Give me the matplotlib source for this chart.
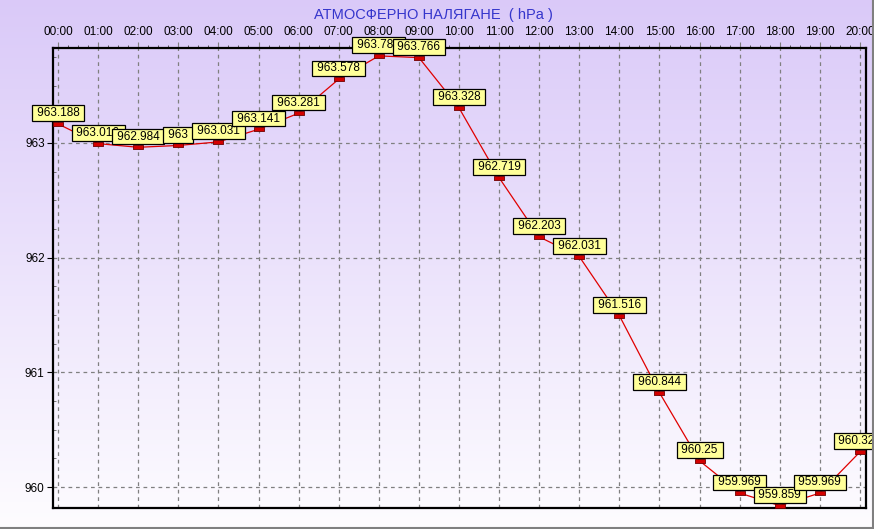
import numpy as np
import matplotlib.pyplot as plt
from matplotlib.lines import Line2D
from matplotlib.ticker import MultipleLocator
from matplotlib.transforms import offset_copy

hours = ["00:00", "01:00", "02:00", "03:00", "04:00", "05:00", "06:00", "07:00",
         "08:00", "09:00", "10:00", "11:00", "12:00", "13:00", "14:00", "15:00",
         "16:00", "17:00", "18:00", "19:00", "20:00"]
pressure = [963.188, 963.016, 962.984, 963.0, 963.031, 963.141, 963.281, 963.578,
            963.781, 963.766, 963.328, 962.719, 962.203, 962.031, 961.516, 960.844,
            960.25, 959.969, 959.859, 959.969, 960.328]
labels = ["963.188", "963.016", "962.984", "963", "963.031", "963.141", "963.281",
          "963.578", "963.781", "963.766", "963.328", "962.719", "962.203", "962.031",
          "961.516", "960.844", "960.25", "959.969", "959.859", "959.969", "960.328"]
yticks = [960, 961, 962, 963]

plt.rcParams['font.family'] = ['Liberation Sans', 'DejaVu Sans']

W, H = 874, 529
fig = plt.figure(figsize=(W / 100, H / 100), dpi=100)

# background gradient over whole figure
bg = fig.add_axes([0, 0, 1, 1], zorder=-10)
top = np.array([0.855, 0.790, 0.975])
bot = np.array([0.995, 0.990, 1.0])
t = np.linspace(0, 1, 256)[:, None]
grad = top * (1 - t) + bot * t
bg.imshow(grad[:, None, :].repeat(2, axis=1), aspect='auto', extent=[0, 1, 0, 1])
bg.set_axis_off()
fig.add_artist(Line2D([0, 1], [1.5 / H, 1.5 / H], color='#808080', lw=1.5))
fig.add_artist(Line2D([1 - 1.5 / W, 1 - 1.5 / W], [0, 1], color='#808080', lw=1.5))

ax = fig.add_axes([53 / W, 21 / H, (866 - 53) / W, (508 - 48) / H])
ax.set_facecolor('none')

# line and markers sit a few pixels below the labelled value
shifted = offset_copy(ax.transData, fig=fig, x=0, y=-2.5, units='dots')
x = np.arange(len(hours))
ax.plot(x, pressure, color='#e00000', lw=0.9, zorder=3, transform=shifted)
rect = [(-1, -0.5), (1, -0.5), (1, 0.5), (-1, 0.5), (-1, -0.5)]
ax.plot(x, pressure, ls='none', marker=rect, markersize=7,
        markerfacecolor='#d40000', markeredgecolor='#700000', markeredgewidth=0.6,
        zorder=4, transform=shifted)

for i, (xi, yi, lab) in enumerate(zip(x, pressure, labels)):
    ax.annotate(" " + lab + " ", (xi, yi), xytext=(0, 1.6), textcoords='offset points',
                ha='center', va='bottom', fontsize=8.5, color='black',
                bbox=dict(boxstyle='square,pad=0.15', fc='#ffff99', ec='black', lw=0.9),
                zorder=5 + i, annotation_clip=False, clip_on=False)

ax.set_xlim(-0.125, 20.15)
ax.set_ylim(959.817, 963.828)

ax.xaxis.tick_top()
ax.set_xticks(x)
ax.set_xticklabels(hours)
ax.xaxis.set_minor_locator(MultipleLocator(0.25))
ax.set_yticks(yticks)
ax.set_yticklabels([str(v) for v in yticks])
ax.yaxis.set_minor_locator(MultipleLocator(0.25))

ax.tick_params(axis='x', which='major', direction='out', length=4, color='#808080',
               labelsize=8.5, pad=3)
ax.tick_params(axis='x', which='minor', direction='out', length=2, color='#404040')
ax.tick_params(axis='y', which='major', direction='out', length=4, color='black',
               labelsize=8.5, pad=2)
ax.tick_params(axis='y', which='minor', direction='in', length=2, color='#606060')

ax.grid(True, which='major', color='#808080', ls=(0, (3, 3)), lw=0.9)
for s in ax.spines.values():
    s.set_color('black')
    s.set_linewidth(1.6)

fig.text(433 / W, 1 - 15 / H, "АТМОСФЕРНО НАЛЯГАНЕ  ( hPa )", ha='center', va='center',
         fontsize=10.5, color='#3535cc')

fig.savefig('out.png', dpi=100)
